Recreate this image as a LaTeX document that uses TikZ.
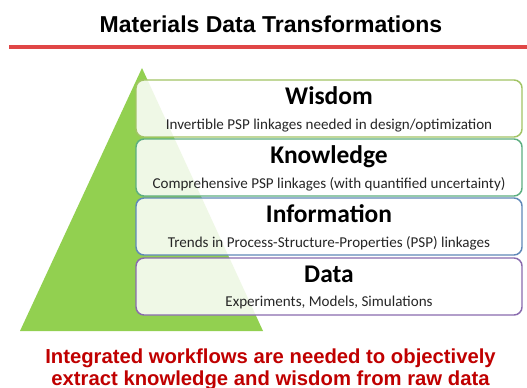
\documentclass[tikz,border=0pt]{standalone}
\usepackage{fontspec}
\setmainfont{Liberation Sans}
\newfontfamily\carlito{Carlito}
\definecolor{pyrgreen}{HTML}{92D050}
\definecolor{titlered}{HTML}{E04646}
\definecolor{textred}{HTML}{C00000}
\definecolor{cwis}{HTML}{A2C465}
\definecolor{cknow}{HTML}{5DAE80}
\definecolor{cinfo}{HTML}{6088B8}
\definecolor{cdata}{HTML}{8A6BAE}
\tikzset{
  layerbox/.style={draw, line width=1.1pt, rounded corners=6pt, fill=white, fill opacity=0.86,
    minimum width=289.5pt, minimum height=42.75pt, inner sep=0pt},
  headtxt/.style={anchor=base, font=\carlito\bfseries\fontsize{19.1pt}{22pt}\selectfont, text=black},
  subtxt/.style={anchor=base, font=\carlito\fontsize{11.3pt}{13pt}\selectfont, text=black!85},
}
\begin{document}
\begin{tikzpicture}[x=0.75pt,y=-0.75pt]
\useasboundingbox (0,0) rectangle (527,388);
\fill[white] (0,0) rectangle (527,388);
\node[anchor=base, font=\bfseries\fontsize{17.25pt}{20pt}\selectfont] (title) at (271,33) {Materials Data Transformations};
\draw[titlered, line width=2.3pt] (9,47) -- (527,47);
\fill[pyrgreen] (142,68) -- (263,331) -- (20,331) -- cycle;
% boxes
\node[layerbox, draw=cwis] (wbox) at (329,108.5) {};
\node[layerbox, draw=cknow] (kbox) at (329,167.5) {};
\node[layerbox, draw=cinfo] (ibox) at (329,226.5) {};
\node[layerbox, draw=cdata] (dbox) at (329,286.5) {};
% texts
\node[headtxt] (wh) at (329,104.5) {Wisdom};
\node[subtxt] (ws) at (329,129.5) {Invertible PSP linkages needed in design/optimization};
\node[headtxt] (kh) at (329,163.5) {Knowledge};
\node[subtxt] (ks) at (329,188.5) {Comprehensive PSP linkages (with quantified uncertainty)};
\node[headtxt] (ih) at (329,222.5) {Information};
\node[subtxt] (is) at (329,247.5) {Trends in Process-Structure-Properties (PSP) linkages};
\node[headtxt] (dh) at (329,282.5) {Data};
\node[subtxt] (ds) at (329,306.5) {Experiments, Models, Simulations};
% bottom text
\node[anchor=base, font=\bfseries\fontsize{15.2pt}{18pt}\selectfont, text=textred] (b1) at (270.5,363) {Integrated workflows are needed to objectively};
\node[anchor=base, font=\bfseries\fontsize{15.2pt}{18pt}\selectfont, text=textred] (b2) at (270.5,385) {extract knowledge and wisdom from raw data};
\end{tikzpicture}
\end{document}
